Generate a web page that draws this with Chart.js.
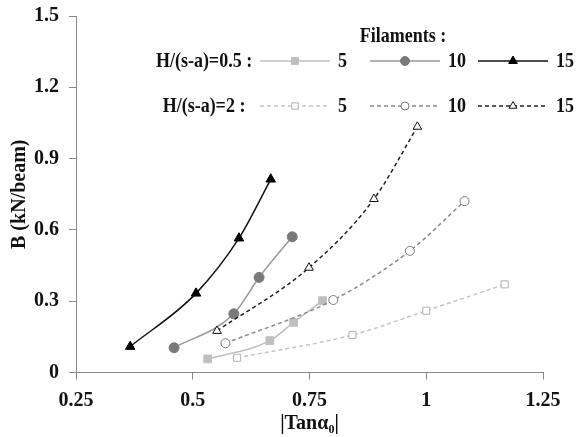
<!DOCTYPE html>
<html>
<head>
<meta charset="utf-8">
<script src="https://cdn.jsdelivr.net/npm/chart.js@4.4.1/dist/chart.umd.min.js"></script>
<style>
  html, body { margin: 0; padding: 0; background: #fff; }
  #wrap { width: 577px; height: 437px; }
</style>
</head>
<body>
<div id="wrap"><canvas id="chart" width="577" height="437"></canvas></div>
<script>
// |Tan a0| and B (kN/beam)
const x05_5  = [0.532, 0.665, 0.716, 0.778];
const y05_5  = [0.057, 0.134, 0.211, 0.302];
const x05_10 = [0.460, 0.588, 0.642, 0.713];
const y05_10 = [0.104, 0.247, 0.400, 0.571];
const x05_15 = [0.366, 0.507, 0.599, 0.667];
const y05_15 = [0.109, 0.333, 0.565, 0.813];
const x2_5   = [0.595, 0.842, 1.000, 1.168];
const y2_5   = [0.062, 0.158, 0.260, 0.371];
const x2_10  = [0.570, 0.801, 0.965, 1.082];
const y2_10  = [0.123, 0.305, 0.512, 0.721];
const x2_15  = [0.552, 0.749, 0.888, 0.981];
const y2_15  = [0.175, 0.441, 0.730, 1.034];

const filaments = ['5', '10', '15'];
const groupLabels = ['H/(s-a)=0.5 :', 'H/(s-a)=2 :'];
const xTicks = [0.25, 0.5, 0.75, 1, 1.25];
const yTicks = [0, 0.3, 0.6, 0.9, 1.2, 1.5];

const serif = '"Liberation Serif", "Times New Roman", serif';

function pts(xs, ys) {
    return xs.map((x, i) => ({ x: x, y: ys[i] }));
}

function series(xs, ys, opts) {
    return Object.assign({
        data: pts(xs, ys),
        showLine: true,
        borderWidth: 1.5,
        pointRadius: 5,
        pointBorderWidth: 1,
        cubicInterpolationMode: 'monotone'
    }, opts);
}

const datasets = [
    series(x2_5, y2_5, { label: '5', borderColor: '#c4c4c4', borderDash: [4, 3],
        pointStyle: 'rect', pointRadius: 5, pointBackgroundColor: '#fff', pointBorderColor: '#b0b0b0' }),
    series(x2_10, y2_10, { label: '10', borderColor: '#8a8a8a', borderDash: [4, 3],
        pointStyle: 'circle', pointRadius: 4.5, pointBackgroundColor: '#fff', pointBorderColor: '#7a7a7a' }),
    series(x2_15, y2_15, { label: '15', borderColor: '#222', borderDash: [4, 3],
        pointStyle: 'triangle', pointRadius: 5, pointBackgroundColor: '#fff', pointBorderColor: '#111' }),
    series(x05_5, y05_5, { label: '5', borderColor: '#c0c0c0',
        pointStyle: 'rect', pointRadius: 5.5, pointBackgroundColor: '#bfbfbf', pointBorderColor: '#bfbfbf' }),
    series(x05_10, y05_10, { label: '10', borderColor: '#999',
        pointStyle: 'circle', pointRadius: 5, pointBackgroundColor: '#7a7a7a', pointBorderColor: '#7a7a7a' }),
    series(x05_15, y05_15, { label: '15', borderColor: '#111',
        pointStyle: 'triangle', pointRadius: 5.5, pointBackgroundColor: '#000', pointBorderColor: '#000' })
];

// text a bit taller than wide, as in the source figure
function tallText(ctx, text, x, y) {
    ctx.save();
    ctx.translate(x, y);
    ctx.scale(1, 1.15);
    ctx.fillText(text, 0, 0);
    ctx.restore();
}

// custom legend drawn inside the plot, like the original figure
const legendPlugin = {
    id: 'figLegend',
    afterDraw(chart) {
        const ctx = chart.ctx;
        ctx.save();
        ctx.fillStyle = '#111';
        ctx.font = 'bold 18px ' + serif;
        ctx.textBaseline = 'middle';
        ctx.textAlign = 'center';
        tallText(ctx, 'Filaments :', 403, 37);

        const rows = [61, 106];
        const starts = [260, 370, 478];
        rows.forEach((ry, r) => {
            ctx.textAlign = 'center';
            ctx.fillStyle = '#111';
            tallText(ctx, groupLabels[r], 204, ry + 1);
            starts.forEach((sx, i) => {
                const ds = chart.data.datasets[(r === 0 ? 3 : 0) + i];
                ctx.strokeStyle = ds.borderColor;
                ctx.lineWidth = ds.borderWidth;
                ctx.setLineDash(ds.borderDash || []);
                ctx.beginPath();
                ctx.moveTo(sx, ry);
                ctx.lineTo(sx + 70, ry);
                ctx.stroke();
                ctx.setLineDash([]);
                ctx.fillStyle = ds.pointBackgroundColor;
                ctx.strokeStyle = ds.pointBorderColor;
                ctx.lineWidth = 1;
                Chart.helpers.drawPoint(ctx, {
                    pointStyle: ds.pointStyle, radius: ds.pointRadius - 0.5,
                    borderWidth: 1, rotation: 0
                }, sx + 35, ry);
                ctx.fillStyle = '#111';
                ctx.textAlign = 'left';
                tallText(ctx, filaments[i], sx + 78, ry + 1);
            });
        });
        ctx.restore();
    }
};

const tickFont = { family: serif, size: 20, weight: 'bold' };

new Chart(document.getElementById('chart').getContext('2d'), {
    type: 'scatter',
    data: { datasets: datasets },
    plugins: [legendPlugin],
    options: {
        responsive: false,
        animation: false,
        layout: { padding: { top: 16, right: 34, left: 0, bottom: 0 } },
        plugins: { legend: { display: false }, tooltip: { enabled: false } },
        scales: {
            x: {
                type: 'linear',
                min: 0.25, max: 1.25,
                afterBuildTicks: s => { s.ticks = xTicks.map(v => ({ value: v })); },
                afterFit: s => { s.height = 64.5; s.paddingLeft = 0; s.paddingRight = 0; },
                ticks: { color: '#111', font: tickFont, padding: 9, callback: v => String(v) },
                grid: { drawOnChartArea: false, drawTicks: true, tickLength: 7, color: '#888' },
                border: { color: '#888', width: 1 },
                title: {
                    display: true, text: '|Tanα₀|', color: '#111',
                    font: { family: serif, size: 20, weight: 'bold' }, padding: { top: 0, bottom: 1 }
                }
            },
            y: {
                type: 'linear',
                min: 0, max: 1.5,
                afterBuildTicks: s => { s.ticks = yTicks.map(v => ({ value: v })); },
                afterFit: s => { s.width = 76; s.paddingTop = 0; s.paddingBottom = 0; },
                ticks: { color: '#111', font: tickFont, padding: 10, callback: v => String(v) },
                grid: { drawOnChartArea: false, drawTicks: true, tickLength: 7, color: '#888' },
                border: { color: '#888', width: 1 },
                title: {
                    display: true, text: 'B (kN/beam)', color: '#111',
                    font: { family: serif, size: 20, weight: 'bold' }, padding: { top: 8, bottom: 0 }
                }
            }
        }
    }
});
</script>
</body>
</html>
